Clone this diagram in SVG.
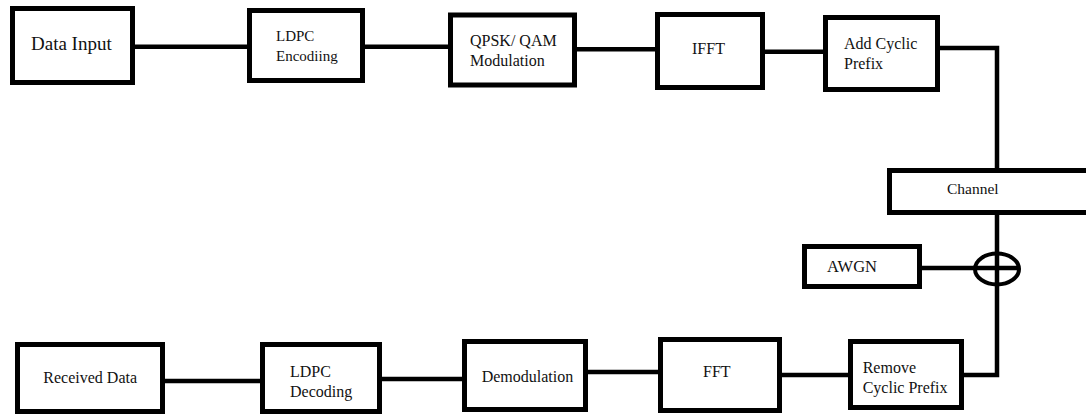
<svg xmlns="http://www.w3.org/2000/svg" width="1086" height="414" viewBox="0 0 1086 414">
<style>
.box{fill:#fff;stroke:#000;stroke-width:5}
.ln{fill:none;stroke:#000;stroke-width:4.5}
text{font-family:"Liberation Serif","Times New Roman",serif;font-size:16px;fill:#111}
</style>
<rect width="1086" height="414" fill="#fff"/>
<g id="connectors">
<line class="ln" x1="135" y1="46.7" x2="247" y2="46.7"/>
<line class="ln" x1="365" y1="46.7" x2="448" y2="46.7"/>
<line class="ln" x1="577" y1="49.3" x2="655" y2="49.3"/>
<line class="ln" x1="765" y1="51.7" x2="823" y2="51.7"/>
<polyline class="ln" points="940,48 997,48 997,171"/>
<polyline class="ln" points="997,212 997,375 964,375"/>
<line class="ln" x1="922" y1="268" x2="1019" y2="268"/>
<line class="ln" x1="782" y1="375" x2="848" y2="375"/>
<line class="ln" x1="588" y1="372" x2="658" y2="372"/>
<line class="ln" x1="375" y1="379" x2="462" y2="379"/>
<line class="ln" x1="160" y1="381" x2="260" y2="381"/>
</g>
<g id="sum"><ellipse cx="997" cy="269" rx="22" ry="15.5" fill="none" stroke="#000" stroke-width="4"/></g>
<g id="data-input"><rect class="box" x="12.5" y="8.5" width="120" height="74"/><text x="31" y="50" style="font-size:19px">Data Input</text></g>
<g id="ldpc-enc"><rect class="box" x="249.5" y="10.5" width="113" height="70"/><text x="276" y="41" style="font-size:15px">LDPC</text><text x="276" y="61" style="font-size:15px">Encodiing</text></g>
<g id="qpsk"><rect class="box" x="450.5" y="15" width="124" height="70"/><text x="470" y="46">QPSK/ QAM</text><text x="470" y="65.5">Modulation</text></g>
<g id="ifft"><rect class="box" x="657.5" y="14.5" width="105" height="73"/><text x="692" y="54">IFFT</text></g>
<g id="add-cp"><rect class="box" x="825.5" y="17.5" width="112" height="72"/><text x="844" y="49.3">Add Cyclic</text><text x="844" y="69">Prefix</text></g>
<g id="channel"><rect class="box" x="889.5" y="170.5" width="210" height="42"/><text x="947" y="194" style="font-size:15.5px">Channel</text></g>
<g id="awgn"><rect class="box" x="804.5" y="246.5" width="115" height="40"/><text x="827" y="271.7" style="font-size:16.5px">AWGN</text></g>
<g id="received"><rect class="box" x="17.5" y="344.5" width="145" height="67"/><text x="43.3" y="383">Received Data</text></g>
<g id="ldpc-dec"><rect class="box" x="262.5" y="344.5" width="117" height="67"/><text x="290" y="377.3">LDPC</text><text x="290" y="397">Decoding</text></g>
<g id="demod"><rect class="box" x="464.5" y="341.5" width="121" height="68"/><text x="481.7" y="382">Demodulation</text></g>
<g id="fft"><rect class="box" x="660.5" y="339.5" width="119" height="71"/><text x="703" y="377">FFT</text></g>
<g id="remove-cp"><rect class="box" x="850.5" y="341.5" width="111" height="66"/><text x="862.7" y="372.7">Remove</text><text x="862.7" y="392.7">Cyclic Prefix</text></g>
</svg>
